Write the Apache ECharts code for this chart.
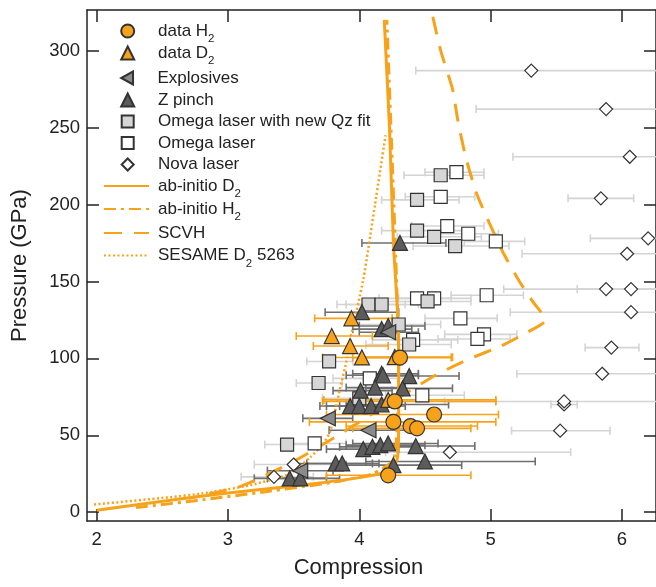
<!DOCTYPE html>
<html>
<head>
<meta charset="utf-8">
<script src="https://cdn.jsdelivr.net/npm/echarts@6/dist/echarts.min.js"></script>
<style>html,body{margin:0;padding:0;background:#fff}#c{width:656px;height:587px}</style>
</head>
<body>
<div id="c"></div>
<script>
// [compression, pressure, xLow, xHigh]
const dataH2 = [[4.22,24,3.75,4.85],[4.26,58.7,3.62,5.04],[4.39,56,3.90,4.90],[4.44,54.5,3.95,4.85],[4.57,63.5,3.75,5.06],[4.27,72,3.72,5.04],[4.31,100.5,3.95,4.70]];
const dataD2 = [[3.94,126,3.66,4.25],[3.79,114.5,3.52,4.10],[3.93,108,3.65,4.22],[4.02,100.6,3.72,4.32],[4.27,100.8,4.0,4.71],[4.22,73,3.73,5.04]];
const explosives = [[3.76,61,3.57,3.95],[4.07,53.3,3.77,4.40],[3.55,27,3.30,3.80],[4.22,117,4.0,4.45]];
const zPinch = [[4.31,175,4.02,4.66],[4.02,130,3.74,4.30],[4.17,119,3.95,4.40],[4.22,121,4.0,4.5],[4.17,90,3.95,4.45],[4.18,89,3.9,4.45],[4.38,88.5,4.1,4.76],[4.12,81,3.9,4.35],[4.33,80.5,4.05,4.71],[4.01,79,3.8,4.25],[3.93,69,3.7,4.2],[4.00,69,3.75,4.3],[4.09,69,3.85,4.35],[4.17,70,3.9,4.68],[4.03,41,3.75,4.3],[4.10,42.5,3.85,4.4],[4.16,43.6,3.9,4.5],[4.22,44.7,3.95,4.6],[4.43,43,4.1,4.88],[3.82,31.7,3.5,4.1],[3.87,31.7,3.6,4.15],[4.26,30.6,3.9,4.78],[4.50,33,4.05,5.34],[3.47,22,3.2,3.75],[3.55,22,3.3,3.85]];
const omegaQz = [[4.62,219,4.34,4.95],[4.44,203,4.17,4.76],[4.44,183,4.17,4.81],[4.57,179,4.29,4.93],[4.73,173,4.41,5.14],[4.07,135,3.83,4.35],[4.17,135,3.9,4.45],[4.52,137,4.2,4.85],[4.30,122,4.0,4.62],[4.38,109,4.05,4.7],[3.77,98,3.60,3.95],[3.69,84,3.52,3.87],[4.00,74,3.72,4.3],[3.45,44,3.28,3.62]];
const omega = [[4.74,221,4.5,4.95],[4.62,205,4.35,4.88],[4.67,186,4.4,4.95],[4.83,181,4.6,5.06],[5.04,176,4.8,5.26],[4.97,141,4.7,5.25],[4.57,139,4.3,4.85],[4.44,139,4.15,4.7],[4.77,126,4.5,5.05],[4.95,115.6,4.65,5.2],[4.90,112.6,4.6,5.15],[4.41,112,4.1,4.75],[4.08,87,3.8,4.4],[4.48,76,4.2,4.8],[3.66,44.7,3.4,3.9]];
const nova = [[5.31,287,4.43,6.27],[5.88,262,4.89,6.27],[6.06,231,5.17,6.27],[5.84,204,5.59,6.09],[6.20,178,5.76,6.27],[6.04,168,5.24,6.27],[5.88,145,5.66,6.27],[6.07,145,5.10,6.27],[6.07,130,5.15,6.27],[5.92,107,5.72,6.13],[5.85,90,5.20,6.27],[5.56,70,5.46,5.66],[5.56,72,4.65,6.27],[5.53,53,5.16,5.91],[4.69,39,4.2,5.61],[3.50,31,3.2,3.9],[3.35,23,3.1,3.65]];
const abInitioD2 = [[2.0,1.3],[2.56,7.8],[3.0,12.5],[3.5,17],[4.0,22.5],[4.24,27],[4.29,35],[4.30,60],[4.30,112],[4.26,175],[4.23,250],[4.19,320]];
const abInitioH2 = [[2.3,3],[2.8,8],[3.3,13.5],[3.8,19.5],[4.1,25],[4.26,34],[4.29,60],[4.30,100],[4.28,160],[4.25,230],[4.21,320]];
const scvh = [[4.56,322],[4.62,300],[4.71,275],[4.75,255],[4.81,231],[4.89,208],[4.99,188],[5.10,168],[5.22,150],[5.32,137],[5.42,125],[5.28,117],[5.08,108],[4.82,99],[4.58,89],[4.35,77],[4.10,64],[3.84,50],[3.50,33],[3.10,17],[2.70,9]];
const sesameD2 = [[1.98,5],[2.56,9.8],[2.79,12],[3.17,17.6],[3.47,25],[3.63,36],[3.73,45],[3.78,53],[3.85,79],[3.91,101],[3.93,112],[4.03,151],[4.12,200],[4.20,245]];
const xTicks = [2,3,4,5,6];
const yTicks = [0,50,100,150,200,250,300];
const legendNames = ['data H2','data D2','Explosives','Z pinch','Omega laser with new Qz fit','Omega laser','Nova laser','ab-initio D2','ab-initio H2','SCVH','SESAME D2 5263'];
const legendTexts = ['data H{s|2}','data D{s|2}','Explosives','Z pinch','Omega laser with new Qz fit','Omega laser','Nova laser','ab-initio D{s|2}','ab-initio H{s|2}','SCVH','SESAME D{s|2} 5263'];

const ORANGE = '#F7A21B';
const EDGE = '#333333';
const FONT = 'Liberation Sans, Arial, sans-serif';

const legendIsLine = [false,false,false,false,false,false,false,true,true,true,true];
const legendIconSize = [13,13,13,13,12,12,12,0,0,0,0];
const legendIconPath = [null,null,'path://M10,0 L10,11 L0,5.5 Z',null,null,null,null,null,null,null,null];
const legendRowCenters = [31, 53, 78, 100, 121.5, 143, 164.5, 186, 209, 233, 255.5];

function errRender(color){
  return function(params, api){
    const y = api.value(1);
    const a = api.coord([api.value(2), y]);
    const b = api.coord([api.value(3), y]);
    const h = 4;
    const st = {stroke: color, lineWidth: 1.6};
    return {type:'group', children:[
      {type:'line', shape:{x1:a[0],y1:a[1],x2:b[0],y2:b[1]}, style:st},
      {type:'line', shape:{x1:a[0],y1:a[1]-h,x2:a[0],y2:a[1]+h}, style:st},
      {type:'line', shape:{x1:b[0],y1:b[1]-h,x2:b[0],y2:b[1]+h}, style:st}
    ]};
  };
}
function errSeries(data, color, z){
  return {type:'custom', name:'err', data:data, renderItem: errRender(color), encode:{x:[0,2,3], y:1}, clip:true, z:z, silent:true};
}
function scatter(name, data, symbol, size, fill, rotate){
  return {type:'scatter', name:name, data:data, encode:{x:0,y:1}, symbol:symbol, symbolSize:size, symbolRotate:rotate||0,
    itemStyle:{color:fill, borderColor:EDGE, borderWidth:1.2, opacity:1}, z:5};
}
function line(name, data, type, width){
  return {type:'line', name:name, data:data, showSymbol:false, symbol:'none', smooth:0.2,
    lineStyle:{color:ORANGE, width:width, type:type}, itemStyle:{color:ORANGE}, z:3};
}

const legends = legendNames.map(function(n, i){
  const isLine = legendIsLine[i];
  const sz = legendIconSize[i];
  const textPad = isLine ? 4 : 157 - (126.7 + sz / 2 + 5);
  const item = {name:n};
  if (legendIconPath[i]) item.icon = legendIconPath[i];
  const cfg = {
    data:[item], orient:'vertical', padding:0,
    left: isLine ? 103 : 126.7 - sz / 2,
    top: legendRowCenters[i] - 9,
    itemWidth: isLine ? 45 : sz, itemHeight: isLine ? 12 : sz, itemGap:0, selectedMode:false,
    formatter:function(){ return legendTexts[i]; },
    textStyle:{fontSize:17, color:'#222', fontFamily:FONT, lineHeight:18, padding:[0,0,0,textPad],
      rich:{s:{fontSize:11.5, verticalAlign:'bottom', lineHeight:18, padding:[0,0,-5,0], fontFamily:FONT, color:'#222'}}}
  };
  if (isLine) cfg.itemStyle = {opacity:0};
  return cfg;
});

const axisCommon = {
  type:'value', axisLine:{show:true, onZero:false, lineStyle:{color:'#222', width:1.5}},
  splitLine:{show:false}
};
const xMin = 1.926, xMax = 6.26, yMin = -5.7, yMax = 326.4;

const chart = echarts.init(document.getElementById('c'));
chart.setOption({
  animation:false,
  backgroundColor:'#fff',
  textStyle:{fontFamily:FONT},
  grid:{left:87, right:0, top:10, bottom:66, containLabel:false},
  legend:legends,
  xAxis:[
    Object.assign({}, axisCommon, {min:xMin, max:xMax, position:'bottom',
      axisTick:{inside:true, length:12, customValues:xTicks, lineStyle:{color:'#222', width:1.5}},
      axisLabel:{customValues:xTicks, fontSize:18.5, color:'#222', margin:9},
      name:'Compression', nameLocation:'middle', nameGap:36, nameTextStyle:{fontSize:22, color:'#222', padding:[0,26,0,0]}}),
    Object.assign({}, axisCommon, {min:xMin, max:xMax, position:'top',
      axisTick:{inside:true, length:12, customValues:xTicks, lineStyle:{color:'#222', width:1.5}},
      axisLabel:{show:false}})
  ],
  yAxis:[
    Object.assign({}, axisCommon, {min:yMin, max:yMax, position:'left',
      axisTick:{inside:true, length:12, customValues:yTicks, lineStyle:{color:'#222', width:1.5}},
      axisLabel:{customValues:yTicks, fontSize:18.5, color:'#222', margin:7},
      name:'Pressure (GPa)', nameLocation:'middle', nameGap:56, nameTextStyle:{fontSize:22, color:'#222'}}),
    Object.assign({}, axisCommon, {min:yMin, max:yMax, position:'right',
      axisTick:{inside:true, length:12, customValues:yTicks, lineStyle:{color:'#222', width:1.5}},
      axisLabel:{show:false}})
  ],
  series:[
    errSeries(nova, '#d4d4d4', 1),
    errSeries(omega, '#d4d4d4', 1),
    errSeries(omegaQz, '#d4d4d4', 1),
    errSeries(zPinch, '#6f6f6f', 1),
    errSeries(explosives, '#6f6f6f', 1),
    errSeries(dataD2, ORANGE, 2),
    errSeries(dataH2, ORANGE, 2),
    line('ab-initio D2', abInitioD2, 'solid', 3),
    line('ab-initio H2', abInitioH2, [12,5,3,5], 3),
    line('SCVH', scvh, [18,12], 3),
    line('SESAME D2 5263', sesameD2, [2,2.5], 2.5),
    scatter('Nova laser', nova, 'diamond', 13, '#ffffff'),
    scatter('Omega laser', omega, 'rect', 13, '#ffffff'),
    scatter('Omega laser with new Qz fit', omegaQz, 'rect', 13, '#d6d6d6'),
    scatter('Z pinch', zPinch, 'triangle', 15, '#5c5c5c'),
    scatter('Explosives', explosives, 'triangle', 15, '#8a8a8a', 90),
    scatter('data D2', dataD2, 'triangle', 15, ORANGE),
    scatter('data H2', dataH2, 'circle', 15, ORANGE)
  ]
});
</script>
</body>
</html>
